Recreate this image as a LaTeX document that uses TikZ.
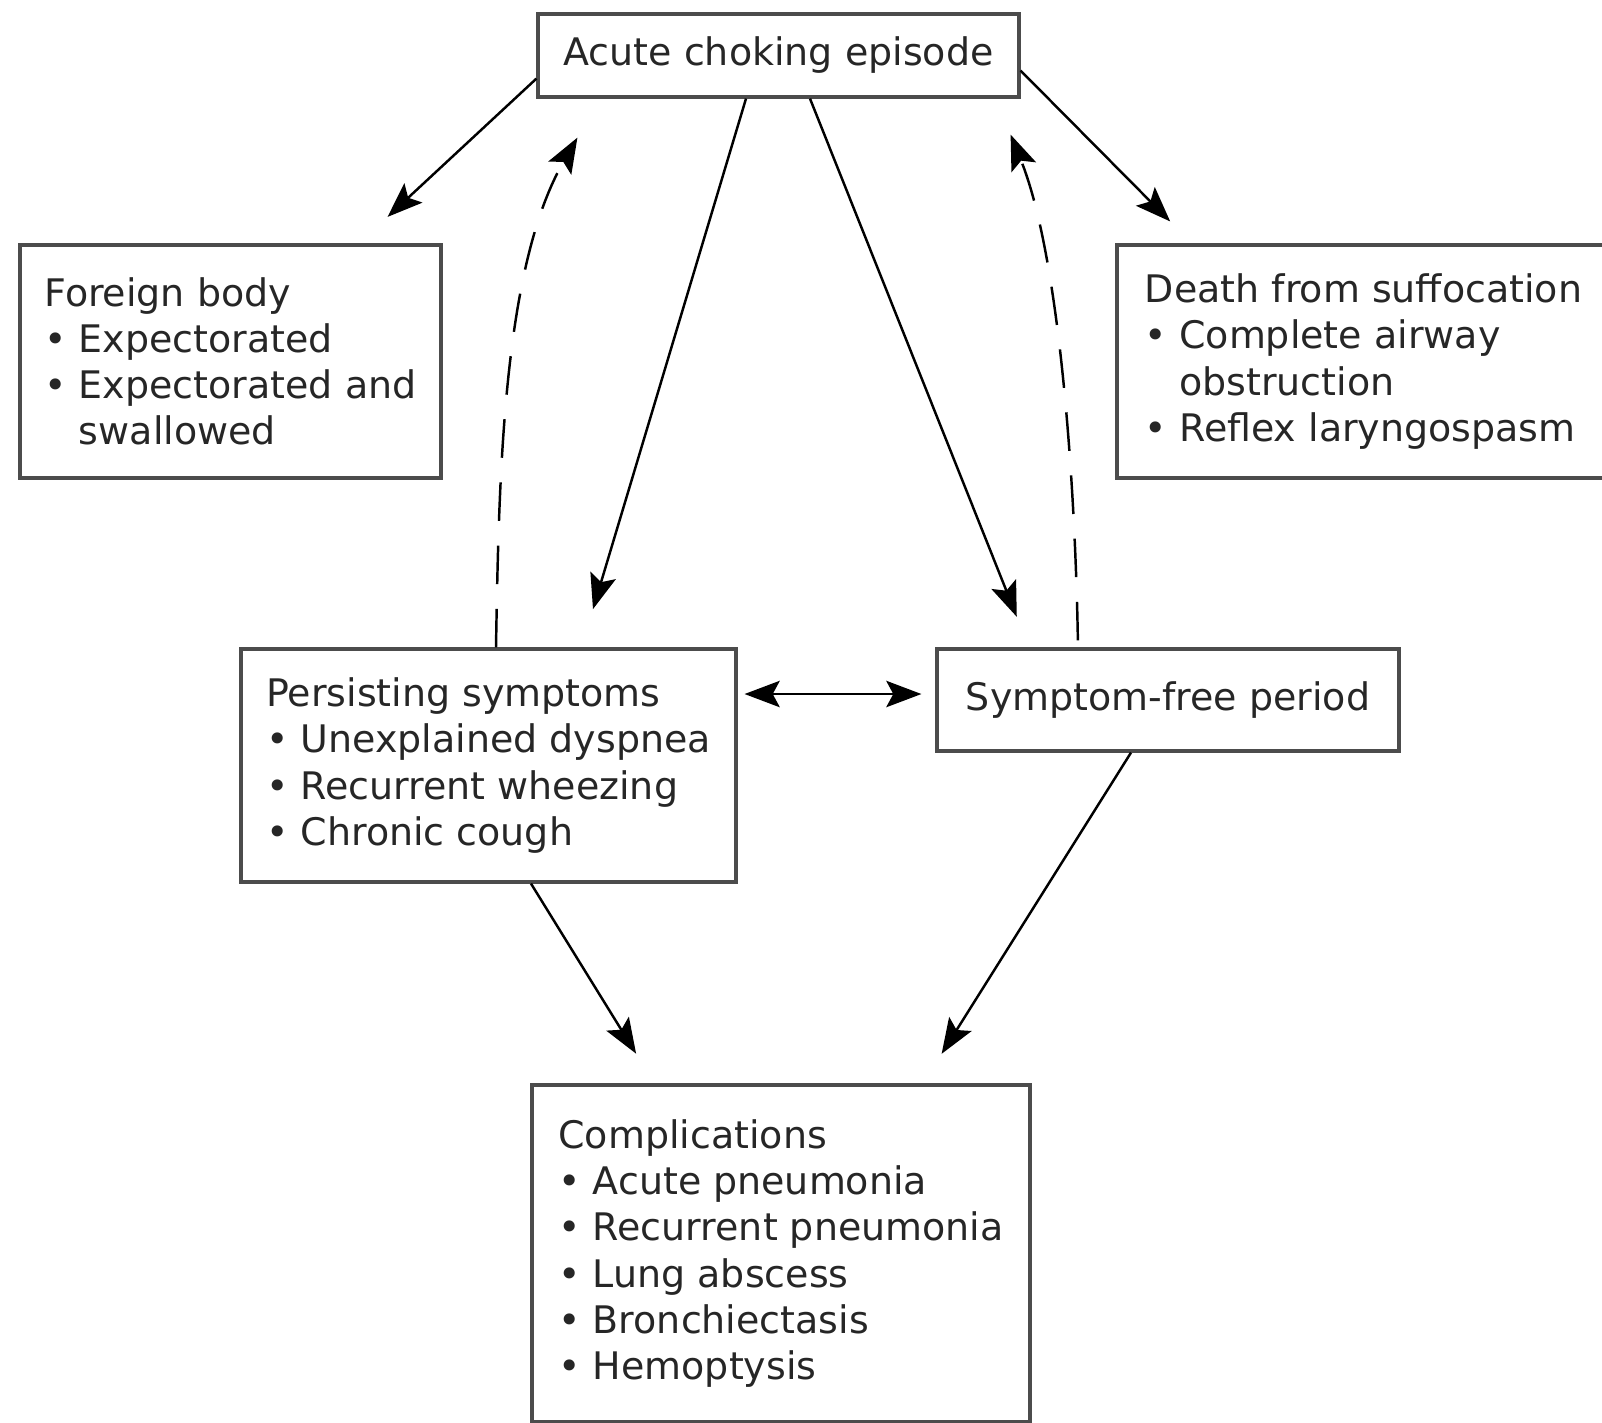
\documentclass[tikz,border=0pt]{standalone}
\usepackage{fontspec}
\setmainfont{DejaVu Sans}
\usetikzlibrary{arrows.meta}
\tikzset{
  box/.style={draw=black!70, line width=0.9pt, text=black!85, font=\fontsize{10.8pt}{13.1pt}\selectfont},
  lbox/.style={box, align=left},
  tip/.style={Stealth[length=10pt,width=7.5pt,inset=2pt]},
  arr/.style={line width=0.7pt, -{Stealth[length=10pt,width=7.5pt,inset=2pt]}},
  dsh/.style={arr, dash pattern=on 11pt off 7pt}
}
\begin{document}
\begin{tikzpicture}
\useasboundingbox (0,0) rectangle (16.02,-14.22);

\node[box, minimum width=4.81cm, minimum height=0.83cm] (top) at (7.785,-0.555) {Acute choking episode};
\node[lbox, minimum width=4.21cm, minimum height=2.33cm] (foreign) at (2.305,-3.615)
  {Foreign body\\ \textbullet{} Expectorated\\ \textbullet{} Expectorated and\\ \phantom{\textbullet{} }swallowed};
\node[lbox, minimum width=4.93cm, minimum height=2.33cm] (death) at (13.635,-3.615)
  {Death from suffocation\\ \textbullet{} Complete airway\\ \phantom{\textbullet{} }obstruction\\ \textbullet{} Reflex laryngospasm};
\node[lbox, minimum width=4.95cm, minimum height=2.33cm] (persist) at (4.885,-7.655)
  {Persisting symptoms\\ \textbullet{} Unexplained dyspnea\\ \textbullet{} Recurrent wheezing\\ \textbullet{} Chronic cough};
\node[box, minimum width=4.62cm, minimum height=1.02cm] (free) at (11.68,-7.00) {Symptom-free period};
\node[lbox, minimum width=4.98cm, minimum height=3.37cm] (compl) at (7.81,-12.535)
  {Complications\\ \textbullet{} Acute pneumonia\\ \textbullet{} Recurrent pneumonia\\ \textbullet{} Lung abscess\\ \textbullet{} Bronchiectasis\\ \textbullet{} Hemoptysis};

\coordinate (dashL) at ([xshift=4.1mm,yshift=-3.9mm]top.south west);
\coordinate (dashR) at ([xshift=-1mm,yshift=-3.6mm]top.south east);

\draw[arr, shorten >=3.9mm] ([yshift=2mm]top.south west) -- ([xshift=12.85mm]foreign.north);
\draw[arr, shorten >=3.1mm] ([yshift=2.8mm]top.south east) -- ([xshift=-17.15mm]death.north);
\draw[arr, shorten >=4mm] ([xshift=-3.25mm]top.south) -- ([xshift=9.3mm]persist.north);
\draw[arr, shorten >=3.3mm] ([xshift=3.15mm]top.south) -- ([xshift=-13.9mm]free.north);

\draw[dsh] ([xshift=0.75mm]persist.north) .. controls +(89:1.7) and +(240:1.5) .. (dashL);
\draw[dsh, shorten <=0.7mm] ([xshift=-9mm]free.north) .. controls +(91:1.7) and +(292:1.3) .. (dashR);

\draw[line width=0.7pt, {Stealth[length=10pt,width=7.5pt,inset=2pt]}-{Stealth[length=10pt,width=7.5pt,inset=2pt]}, shorten <=0.7mm, shorten >=1.4mm]
  ([yshift=0.6mm]free.west -| persist.east) -- ([yshift=0.6mm]free.west);

\draw[arr, shorten >=3.5mm] ([xshift=4.25mm]persist.south) -- ([xshift=-12.65mm]compl.north);
\draw[arr, shorten >=3.5mm] ([xshift=-3.7mm]free.south) -- ([xshift=14.2mm]compl.north);
\end{tikzpicture}
\end{document}
